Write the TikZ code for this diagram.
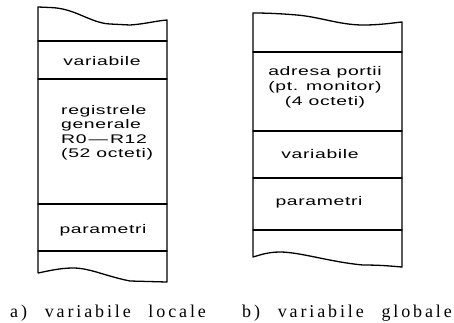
\documentclass[tikz,border=0pt]{standalone}
\usepackage{fontspec}
\setmainfont{Liberation Serif}
\newfontfamily\cellfont{Liberation Sans}[FakeStretch=1.55,LetterSpace=5]
\newfontfamily\capfont{Liberation Serif}[LetterSpace=16,WordSpace=2.4]

\begin{document}
\begin{tikzpicture}[x=1pt,y=-1pt,
  wall/.style={line width=1.3pt, line join=round, line cap=round},
  cell/.style={font=\cellfont\fontsize{12.5}{14.5}\selectfont, inner sep=0pt, align=center},
  caption/.style={font=\capfont\fontsize{18}{20}\selectfont, inner sep=0pt, anchor=base west}]
\useasboundingbox (0,0) rectangle (454,322);

% --- stack a): local variables ---
\draw[wall] (38,273) -- (38,7) -- (50,7.5)
  .. controls (75,8) and (90,23) .. (110,24) -- (130,25)
  .. controls (145,24) and (155,21) .. (167,20) -- (167,282)
  -- (130,281) .. controls (105,276) and (90,268) .. (73,268)
  .. controls (60,268) and (48,271) .. (38,273);
\foreach \y in {41,79,204,251} \draw[wall] (38,\y) -- (167,\y);

\node[cell] (avar) at (102,61) {variabile};
\node[cell, align=left, anchor=west] (areg) at (61,133)
  {registrele\\generale\\R0\,—\,R12\\(52 octeti)};
\node[cell] (apar) at (103,230) {parametri};
\node[caption] (acap) at (10,317) {a) variabile locale};

% --- stack b): global variables ---
\draw[wall] (253,257) -- (253,13)
  .. controls (270,13) and (285,14) .. (297,15)
  .. controls (320,17) and (340,25) .. (363,25)
  .. controls (380,25) and (392,23) .. (402,22) -- (402,267)
  .. controls (390,266) and (380,265) .. (363,265)
  .. controls (330,262) and (300,252) .. (280,252)
  .. controls (268,252) and (260,255) .. (253,257);
\foreach \y in {52,131,178,230} \draw[wall] (253,\y) -- (402,\y);

\node[cell, font=\cellfont\fontsize{12.5}{15}\selectfont] (badr) at (325,87)
  {adresa portii\\(pt. monitor)\\(4 octeti)};
\node[cell] (bvar) at (320,154) {variabile};
\node[cell] (bpar) at (319,202) {parametri};
\node[caption] (bcap) at (242,317) {b) variabile globale};
\end{tikzpicture}
\end{document}
